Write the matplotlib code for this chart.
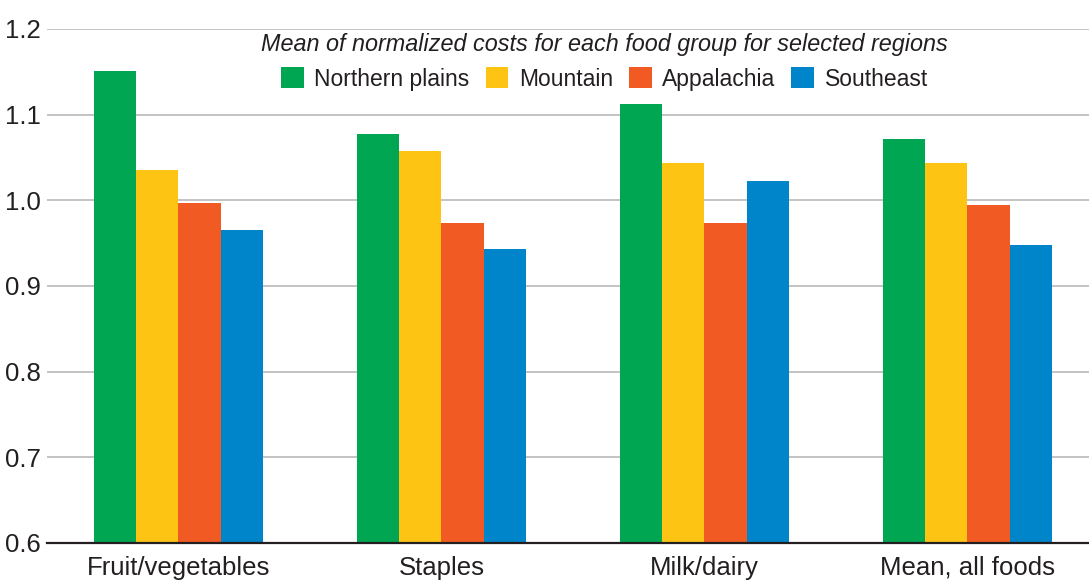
import numpy as np
import matplotlib
matplotlib.use('Agg')
import matplotlib.pyplot as plt
from matplotlib.patches import Patch

plt.rcParams['font.family'] = ['Liberation Sans', 'DejaVu Sans']

groups = ['Fruit/vegetables', 'Staples', 'Milk/dairy', 'Mean, all foods']
regions = ['Northern plains', 'Mountain', 'Appalachia', 'Southeast']
northern_plains = [1.151, 1.078, 1.113, 1.072]
mountain = [1.035, 1.058, 1.043, 1.043]
appalachia = [0.997, 0.974, 0.974, 0.994]
southeast = [0.965, 0.943, 1.023, 0.948]
colors = ['#00A651', '#FDC413', '#F15A22', '#0084CA']

series = [northern_plains, mountain, appalachia, southeast]

fig = plt.figure(figsize=(10.89, 5.80), dpi=100)
ax = fig.add_axes([47/1089, 37/580, 1 - 47/1089, (543-29)/580])

x = np.arange(len(groups))
w = 0.16
for i, (vals, c) in enumerate(zip(series, colors)):
    ax.bar(x + (i - 1.5)*w, np.array(vals) - 0.6, w, bottom=0.6, color=c, zorder=3)

ax.set_ylim(0.6, 1.2)
ax.set_xlim(-0.5, 3.462)
ax.set_yticks([0.6, 0.7, 0.8, 0.9, 1.0, 1.1, 1.2])
ax.set_yticklabels(['0.6', '0.7', '0.8', '0.9', '1.0', '1.1', '1.2'])
ax.set_xticks(x)
ax.set_xticklabels(groups)
ax.tick_params(length=0, labelsize=18.5, labelcolor='#231F20')
ax.tick_params(axis='x', pad=9)
ax.tick_params(axis='y', pad=4.5)
ax.yaxis.grid(True, color='#b3b3b3', lw=1.1, zorder=0)
for s in ['left', 'right', 'top']:
    ax.spines[s].set_visible(False)
ax.spines['bottom'].set_linewidth(1.6)
ax.spines['bottom'].set_color('#231F20')
ax.spines['bottom'].set_zorder(4)

handles = [Patch(facecolor=c, edgecolor='none') for c in colors]
leg = ax.legend(handles, regions, loc='upper center', bbox_to_anchor=(0.535, 1.01),
                ncol=4, frameon=False, fontsize=16.5, handlelength=1.0, handleheight=1.0,
                handletextpad=0.45, columnspacing=0.7, borderaxespad=0.0,
                title='Mean of normalized costs for each food group for selected regions',
                title_fontproperties={'size': 16.8, 'style': 'italic'})
leg.get_title().set_color('#231F20')
for t in leg.get_texts():
    t.set_color('#231F20')

fig.savefig('out.png', dpi=100)
